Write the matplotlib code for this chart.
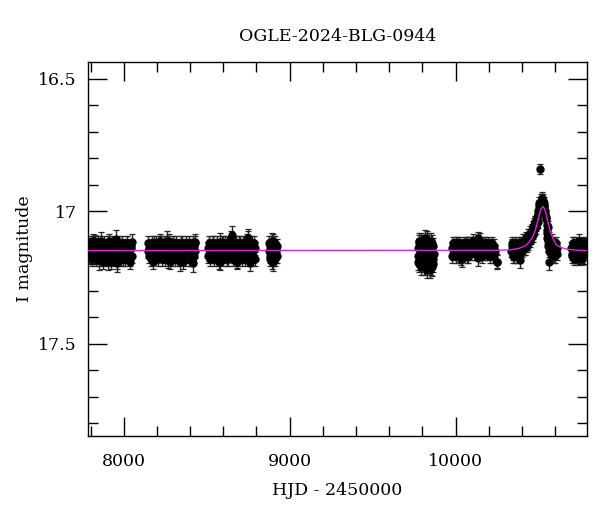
import numpy as np
import matplotlib.pyplot as plt

# observing seasons (HJD - 2450000) and I magnitudes
t_s1 = [7792, 7798, 7803, 7809, 7815, 7820, 7826, 7831, 7837, 7843, 7848, 7854, 7860, 7866, 7871,
        7877, 7883, 7889, 7894, 7900, 7906, 7911, 7917, 7923, 7929, 7935, 7940, 7946, 7952, 7958,
        7963, 7969, 7975, 7981, 7987, 7992, 7998, 8004, 8010, 8016, 8021, 8027, 8033, 8039, 8045]
m_s1 = [17.14, 17.16, 17.13, 17.17, 17.15, 17.12, 17.16, 17.18, 17.14, 17.15, 17.13, 17.17, 17.16, 17.12, 17.15,
        17.19, 17.14, 17.16, 17.13, 17.15, 17.17, 17.11, 17.16, 17.14, 17.18, 17.15, 17.13, 17.16, 17.14, 17.19,
        17.15, 17.12, 17.17, 17.14, 17.16, 17.13, 17.18, 17.15, 17.14, 17.17, 17.12, 17.16, 17.15, 17.18, 17.14]
t_s1b = [7795, 7801, 7806, 7812, 7818, 7823, 7829, 7834, 7840, 7846, 7851, 7857, 7863, 7869, 7874,
         7880, 7886, 7892, 7897, 7903, 7909, 7914, 7920, 7926, 7932, 7938, 7943, 7949, 7955, 7961,
         7966, 7972, 7978, 7984, 7990, 7995, 8001, 8007, 8013, 8019, 8024, 8030, 8036, 8042, 8048]
m_s1b = [17.17, 17.12, 17.18, 17.13, 17.11, 17.17, 17.13, 17.14, 17.17, 17.12, 17.18, 17.14, 17.13, 17.18, 17.17,
         17.12, 17.17, 17.13, 17.18, 17.12, 17.14, 17.16, 17.13, 17.19, 17.12, 17.17, 17.16, 17.13, 17.18, 17.13,
         17.17, 17.16, 17.13, 17.18, 17.12, 17.17, 17.13, 17.18, 17.16, 17.12, 17.17, 17.14, 17.19, 17.13, 17.17]

t_s2 = [8146, 8152, 8158, 8165, 8171, 8178, 8184, 8190, 8197, 8203, 8210, 8216, 8222, 8229, 8235,
        8242, 8248, 8254, 8261, 8267, 8274, 8280, 8286, 8293, 8299, 8306, 8312, 8318, 8325, 8331,
        8338, 8344, 8350, 8357, 8363, 8370, 8376, 8382, 8389, 8395, 8402, 8408, 8414, 8421, 8427]
m_s2 = [17.15, 17.17, 17.13, 17.16, 17.14, 17.19, 17.12, 17.15, 17.17, 17.14, 17.16, 17.11, 17.15, 17.18, 17.13,
        17.16, 17.14, 17.12, 17.17, 17.15, 17.13, 17.19, 17.14, 17.16, 17.12, 17.15, 17.18, 17.13, 17.16, 17.14,
        17.17, 17.12, 17.15, 17.19, 17.14, 17.16, 17.13, 17.17, 17.15, 17.12, 17.16, 17.14, 17.18, 17.13, 17.15]
t_s2b = [8149, 8155, 8162, 8168, 8175, 8181, 8187, 8194, 8200, 8207, 8213, 8219, 8226, 8232, 8239,
         8245, 8251, 8258, 8264, 8271, 8277, 8283, 8290, 8296, 8303, 8309, 8315, 8322, 8328, 8335,
         8341, 8347, 8354, 8360, 8367, 8373, 8379, 8386, 8392, 8399, 8405, 8411, 8418, 8424, 8430]
m_s2b = [17.12, 17.14, 17.18, 17.12, 17.17, 17.13, 17.17, 17.12, 17.13, 17.18, 17.12, 17.16, 17.12, 17.14, 17.17,
         17.12, 17.18, 17.16, 17.13, 17.11, 17.17, 17.13, 17.18, 17.12, 17.17, 17.13, 17.12, 17.17, 17.13, 17.18,
         17.14, 17.17, 17.12, 17.13, 17.18, 17.12, 17.16, 17.13, 17.18, 17.17, 17.13, 17.18, 17.12, 17.17, 17.12]

t_s3 = [8506, 8512, 8519, 8525, 8532, 8538, 8544, 8551, 8557, 8564, 8570, 8576, 8583, 8589, 8596,
        8602, 8608, 8615, 8621, 8628, 8634, 8640, 8647, 8653, 8660, 8666, 8672, 8679, 8685, 8692,
        8698, 8704, 8711, 8717, 8724, 8730, 8736, 8743, 8749, 8756, 8762, 8768, 8775, 8781, 8788]
m_s3 = [17.14, 17.16, 17.13, 17.17, 17.15, 17.12, 17.18, 17.14, 17.16, 17.13, 17.15, 17.19, 17.14, 17.16, 17.12,
        17.17, 17.15, 17.13, 17.18, 17.14, 17.16, 17.12, 17.10, 17.15, 17.17, 17.13, 17.16, 17.14, 17.19, 17.15,
        17.12, 17.17, 17.14, 17.16, 17.13, 17.18, 17.15, 17.11, 17.10, 17.16, 17.14, 17.17, 17.13, 17.15, 17.18]
t_s3b = [8509, 8515, 8522, 8528, 8535, 8541, 8547, 8554, 8560, 8567, 8573, 8579, 8586, 8592, 8599,
         8605, 8611, 8618, 8624, 8631, 8637, 8643, 8650, 8656, 8663, 8669, 8675, 8682, 8688, 8695,
         8701, 8707, 8714, 8720, 8727, 8733, 8739, 8746, 8752, 8759, 8765, 8771, 8778, 8784, 8790]
m_s3b = [17.17, 17.12, 17.18, 17.13, 17.12, 17.17, 17.13, 17.17, 17.12, 17.18, 17.13, 17.14, 17.17, 17.12, 17.18,
         17.13, 17.12, 17.17, 17.12, 17.18, 17.13, 17.16, 17.13, 17.18, 17.12, 17.17, 17.12, 17.18, 17.13, 17.12,
         17.17, 17.13, 17.18, 17.12, 17.17, 17.13, 17.12, 17.16, 17.17, 17.12, 17.18, 17.13, 17.17, 17.12, 17.14]

t_s4 = [8876, 8878, 8880, 8882, 8884, 8886, 8888, 8890, 8892, 8894, 8896, 8898, 8900, 8902, 8904,
        8906, 8908, 8910, 8912, 8914, 8916, 8918, 8920, 8922, 8924]
m_s4 = [17.15, 17.12, 17.13, 17.18, 17.17, 17.14, 17.12, 17.16, 17.16, 17.13, 17.19, 17.15, 17.14, 17.11, 17.16,
        17.18, 17.13, 17.15, 17.18, 17.12, 17.15, 17.17, 17.14, 17.13, 17.17]

t_s5 = [9771, 9773, 9775, 9777, 9779, 9781, 9783, 9785, 9787, 9789, 9791, 9793, 9795, 9797, 9799,
        9801, 9803, 9805, 9807, 9809, 9811, 9813, 9815, 9817, 9819, 9821, 9823, 9825, 9827, 9829,
        9831, 9833, 9835, 9837, 9839, 9841, 9843, 9845, 9847, 9849, 9851, 9853, 9855, 9857, 9859,
        9861, 9863, 9865, 9867]
m_s5 = [17.14, 17.19, 17.17, 17.11, 17.12, 17.20, 17.19, 17.13, 17.15, 17.21, 17.11, 17.16, 17.18, 17.12, 17.13,
        17.20, 17.16, 17.12, 17.21, 17.17, 17.14, 17.10, 17.17, 17.21, 17.12, 17.18, 17.19, 17.13, 17.15, 17.22,
        17.13, 17.11, 17.20, 17.17, 17.16, 17.12, 17.22, 17.18, 17.14, 17.11, 17.18, 17.21, 17.15, 17.12, 17.17,
        17.20, 17.13, 17.18, 17.16]

t_s6 = [9976, 9983, 9990, 9997, 10004, 10011, 10018, 10025, 10032, 10039, 10046, 10053, 10060, 10067, 10074,
        10081, 10088, 10095, 10102, 10109, 10116, 10123, 10130, 10137, 10144, 10151, 10158, 10165, 10172, 10179,
        10186, 10193, 10200, 10207, 10214, 10221, 10228, 10235, 10247]
m_s6 = [17.14, 17.16, 17.13, 17.15, 17.17, 17.12, 17.15, 17.14, 17.18, 17.13, 17.16, 17.15, 17.12, 17.17, 17.14,
        17.16, 17.13, 17.15, 17.11, 17.14, 17.16, 17.13, 17.15, 17.10, 17.12, 17.14, 17.17, 17.13, 17.15, 17.12,
        17.16, 17.14, 17.13, 17.17, 17.15, 17.14, 17.16, 17.15, 17.19]
t_s6b = [9979, 9986, 9993, 10000, 10007, 10014, 10021, 10028, 10035, 10042, 10049, 10056, 10063, 10070, 10077,
         10084, 10091, 10098, 10105, 10112, 10119, 10126, 10133, 10140, 10147, 10154, 10161, 10168, 10175, 10182,
         10189, 10196, 10203, 10210, 10217, 10224, 10231]
m_s6b = [17.17, 17.12, 17.16, 17.12, 17.13, 17.17, 17.12, 17.17, 17.13, 17.16, 17.12, 17.13, 17.16, 17.12, 17.17,
         17.12, 17.16, 17.12, 17.14, 17.12, 17.13, 17.16, 17.12, 17.13, 17.16, 17.12, 17.13, 17.16, 17.12, 17.16,
         17.13, 17.12, 17.16, 17.13, 17.12, 17.17, 17.13]

# season with the microlensing event
t_s7 = [10335, 10340, 10345, 10350, 10355, 10360, 10365, 10370, 10375, 10380, 10385, 10390, 10395, 10400, 10405,
        10410, 10415, 10420, 10425, 10430, 10435, 10440, 10445, 10450, 10455, 10460, 10465, 10470, 10475, 10480,
        10485, 10490, 10495, 10500, 10505, 10512, 10515, 10520, 10525, 10530, 10535, 10540, 10545, 10550, 10553,
        10556, 10560, 10565, 10570, 10575, 10580, 10585, 10590, 10595, 10600, 10605, 10610]
m_s7 = [17.15, 17.13, 17.17, 17.14, 17.16, 17.12, 17.15, 17.17, 17.13, 17.15, 17.14, 17.16, 17.12, 17.14, 17.11,
        17.13, 17.12, 17.14, 17.10, 17.12, 17.09, 17.11, 17.10, 17.08, 17.09, 17.07, 17.08, 17.05, 17.06, 17.04,
        17.05, 17.02, 17.00, 16.99, 16.97, 16.96, 16.97, 16.95, 16.96, 16.97, 16.98, 17.00, 17.02, 17.05, 17.08,
        17.11, 17.13, 17.10, 17.14, 17.12, 17.15, 17.13, 17.16, 17.14, 17.17, 17.15, 17.16]
t_s7b = [10338, 10343, 10348, 10353, 10358, 10363, 10368, 10373, 10378, 10383, 10388, 10393, 10398, 10403, 10408,
         10413, 10418, 10423, 10428, 10433, 10438, 10443, 10448, 10453, 10458, 10463, 10468, 10473, 10478, 10483,
         10488, 10493, 10498, 10503, 10508, 10518, 10522, 10528, 10532, 10538, 10543, 10548, 10551, 10555, 10558,
         10562, 10568, 10572, 10578, 10583, 10588, 10593, 10598, 10603, 10608]
m_s7b = [17.12, 17.16, 17.13, 17.17, 17.13, 17.16, 17.13, 17.14, 17.17, 17.12, 17.16, 17.13, 17.15, 17.12, 17.14,
         17.11, 17.14, 17.12, 17.13, 17.10, 17.12, 17.09, 17.11, 17.10, 17.07, 17.09, 17.06, 17.07, 17.04, 17.06,
         17.03, 17.04, 17.01, 16.98, 16.99, 16.98, 16.96, 16.99, 16.98, 17.01, 17.03, 17.07, 17.10, 17.06, 17.13,
         17.15, 17.12, 17.16, 17.11, 17.16, 17.12, 17.17, 17.13, 17.12, 17.14]

t_s8 = [10696, 10699, 10702, 10705, 10708, 10711, 10714, 10717, 10720, 10723, 10726, 10729, 10732, 10735, 10738,
        10741, 10744, 10747, 10750, 10753, 10756, 10759, 10762, 10765, 10768, 10771, 10774, 10778, 10782, 10786]
m_s8 = [17.14, 17.17, 17.16, 17.12, 17.12, 17.18, 17.17, 17.13, 17.15, 17.12, 17.13, 17.17, 17.18, 17.14, 17.14,
        17.11, 17.16, 17.17, 17.12, 17.13, 17.15, 17.18, 17.17, 17.13, 17.13, 17.16, 17.16, 17.12, 17.15, 17.14]

season_err = [0.026, 0.026, 0.026, 0.026, 0.03, 0.024, 0.024, 0.024]

# noisier points sticking out of the season clouds
t_x = [7825, 7861, 7952, 8048, 7903, 7958, 7852, 8259, 8428, 8265, 8337, 8420,
       8578, 8651, 8747, 8578, 8759, 8681, 8892, 8898, 9825, 9855,
       10145, 10084, 10036, 10133, 10247, 10385, 10560]
m_x = [17.12, 17.11, 17.105, 17.115, 17.19, 17.195, 17.185, 17.11, 17.115, 17.185, 17.19, 17.195,
       17.115, 17.09, 17.10, 17.19, 17.195, 17.18, 17.115, 17.19, 17.11, 17.21,
       17.11, 17.125, 17.18, 17.175, 17.19, 17.185, 17.19]
e_x = [0.03, 0.032, 0.034, 0.03, 0.03, 0.032, 0.035, 0.035, 0.03, 0.03, 0.034, 0.033,
       0.035, 0.035, 0.035, 0.03, 0.03, 0.035, 0.035, 0.035, 0.035, 0.035,
       0.03, 0.028, 0.03, 0.03, 0.028, 0.03, 0.03]

# single bright outlier
t_out = [10510]
m_out = [16.84]
e_out = [0.02]

# microlensing model curve
model_t = [7785, 10250, 10330, 10380, 10420, 10445, 10465, 10480, 10495, 10505, 10515, 10525,
           10535, 10545, 10555, 10570, 10585, 10605, 10630, 10670, 10720, 10790]
model_m = [17.148, 17.147, 17.145, 17.14, 17.13, 17.115, 17.095, 17.07, 17.035, 17.01, 16.99, 16.982,
           16.99, 17.01, 17.04, 17.075, 17.10, 17.125, 17.135, 17.143, 17.146, 17.148]

plt.rcParams['font.family'] = 'DejaVu Serif'

fig = plt.figure(figsize=(6, 5.12), dpi=100)
ax = fig.add_axes([0.1467, 0.1484, 0.8313, 0.7306])

ax.plot(model_t, model_m, color='#e020e0', lw=1.0, zorder=3)

style = dict(fmt='o', color='black', ms=5, ecolor='0.15', elinewidth=1.0,
             capsize=2.2, capthick=0.9, zorder=2)
seasons = [(t_s1 + t_s1b, m_s1 + m_s1b), (t_s2 + t_s2b, m_s2 + m_s2b), (t_s3 + t_s3b, m_s3 + m_s3b),
           (t_s4, m_s4), (t_s5, m_s5), (t_s6 + t_s6b, m_s6 + m_s6b), (t_s7 + t_s7b, m_s7 + m_s7b),
           (t_s8, m_s8)]
for (t, m), e in zip(seasons, season_err):
    ax.errorbar(t, m, yerr=e, **style)
ax.errorbar(t_x, m_x, yerr=e_x, **style)
ax.errorbar(t_out, m_out, yerr=e_out, **style)

ax.set_xlim(7785, 10790)
ax.set_ylim(17.848, 16.436)
ax.set_xticks([8000, 9000, 10000])
ax.set_xticks(np.arange(7800, 10800, 200), minor=True)
ax.set_yticks([16.5, 17, 17.5])
ax.set_yticklabels(['16.5', '17', '17.5'])
ax.set_yticks(np.arange(16.5, 17.85, 0.1), minor=True)
ax.tick_params(which='both', direction='in', top=True, right=True, labelsize=12.5, width=1)
ax.tick_params(which='major', length=14)
ax.tick_params(which='minor', length=7)
ax.tick_params(axis='x', which='major', pad=12)
ax.tick_params(axis='y', which='major', pad=8)
for s in ax.spines.values():
    s.set_linewidth(1)

ax.set_title('OGLE-2024-BLG-0944', fontsize=12.5, pad=15)
ax.set_xlabel('HJD - 2450000', fontsize=12.5, labelpad=9)
ax.set_ylabel('I magnitude', fontsize=12.5, labelpad=4)

fig.savefig('out.png', dpi=100)
